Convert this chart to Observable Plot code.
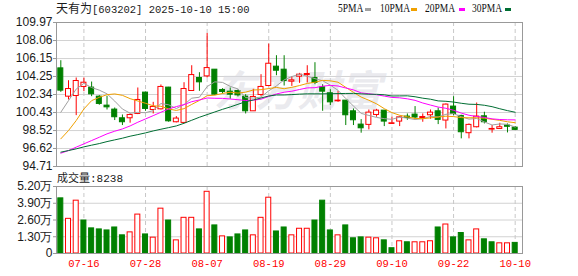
<!DOCTYPE html>
<html><head><meta charset="utf-8">
<script src="https://cdn.jsdelivr.net/npm/d3@7"></script>
<script src="https://cdn.jsdelivr.net/npm/@observablehq/plot@0.6"></script>
<style>
body{margin:0;background:#fff;}
#wrap{position:relative;width:578px;height:276px;overflow:hidden;background:#fff;}
#wrap svg{position:absolute;left:0;}
.t{position:absolute;white-space:nowrap;color:#1a1a1a;line-height:14px;}
.cjk{font-family:"Noto Sans CJK SC",sans-serif;}
.mono{font-family:"Liberation Mono",monospace;}
.lg{position:absolute;top:2px;font-family:"Liberation Serif",serif;font-size:12.5px;color:#111;line-height:13px;white-space:nowrap;transform:scaleX(0.76);transform-origin:0 0;}
.sq{position:absolute;top:8px;width:6px;height:3px;}
g[aria-label="y-axis tick"]{stroke:#999;}
</style></head><body><div id="wrap"></div>
<script>
// ---- data ----
const stockName = "天有为";
const stockCode = "603202";
const stamp = "2025-10-10 15:00";
const lastVolumeText = "8238";
const dates = ["07-11","07-14","07-15","07-16","07-17","07-18","07-21","07-22","07-23","07-24","07-25","07-28","07-29","07-30","07-31",
"08-01","08-04","08-05","08-06","08-07","08-08","08-11","08-12","08-13","08-14","08-15","08-18","08-19","08-20","08-21","08-22","08-25","08-26","08-27","08-28","08-29",
"09-01","09-02","09-03","09-04","09-05","09-08","09-09","09-10","09-11","09-12","09-15","09-16","09-17","09-18","09-19","09-22","09-23","09-24","09-25","09-26","09-29","09-30",
"10-09","10-10"];
const open  = [105.11,102.11,102.18,103.14,103.07,102.11,101.16,100.74,99.82,99.82,100.28,102.54,100.70,100.77,103.07,99.40,99.33,102.71,104.09,104.26,104.97,102.82,102.64,102.71,102.11,100.56,102.29,103.24,105.29,104.97,103.70,104.23,104.40,104.09,103.10,102.47,101.62,101.69,100.56,99.15,99.12,100.17,100.63,99.22,99.47,100.00,100.21,99.85,100.14,100.56,99.58,101.06,100.07,98.24,98.87,100.03,98.62,98.69,99.05,98.83];
const high  = [105.92,103.80,104.09,104.09,103.66,102.22,102.15,100.91,100.17,100.28,103.03,102.60,101.51,103.35,103.10,100.00,103.59,105.39,104.65,108.81,104.97,102.96,103.03,102.82,102.32,102.89,104.44,107.68,106.45,106.45,104.23,104.58,105.39,105.71,103.38,102.85,102.68,101.69,100.81,99.68,100.70,100.77,100.63,99.93,100.03,100.28,101.06,100.28,100.70,100.91,101.34,102.11,100.14,99.22,101.44,100.46,99.05,99.29,99.22,98.94];
const low   = [102.57,101.76,100.10,102.64,102.11,101.20,100.70,99.58,99.05,99.30,100.21,100.56,100.28,100.70,99.40,99.33,99.26,102.71,102.68,104.09,102.22,102.40,101.83,102.08,100.28,100.56,102.11,103.17,104.33,103.24,103.20,103.52,103.56,103.38,100.56,101.16,101.51,99.05,99.05,98.24,98.59,99.93,98.94,99.19,98.94,99.61,99.72,99.40,99.72,99.15,98.69,100.10,97.64,97.64,98.80,99.22,98.24,98.66,98.27,98.52];
const close = [102.75,102.92,103.77,103.59,102.36,101.34,100.98,99.93,99.40,100.17,101.76,100.81,101.02,103.14,99.50,99.79,102.92,104.40,103.63,105.14,102.32,102.61,102.32,102.25,100.56,102.08,103.14,105.60,104.86,103.77,103.84,104.44,104.51,103.56,102.64,101.51,101.69,100.14,99.61,98.76,100.42,100.63,99.47,99.29,99.92,99.86,99.90,99.95,100.42,99.65,101.27,100.28,98.34,99.12,100.00,99.40,98.69,98.87,98.92,98.59];
const volume = [4.28,2.69,4.10,2.56,1.95,1.87,1.79,2.02,1.41,1.64,3.02,1.48,1.23,3.48,2.56,1.02,2.77,2.77,1.87,4.79,2.18,1.33,1.25,1.48,1.79,1.41,2.77,4.33,1.71,2.02,1.41,1.92,1.92,2.56,4.10,1.79,1.41,2.18,1.18,1.25,1.23,1.18,1.02,0.41,0.95,0.87,0.87,0.87,0.95,2.02,2.25,1.25,1.59,1.02,1.87,1.10,0.87,0.79,0.79,0.8238];
const ma5  = [100.46,101.69,102.92,103.52,103.08,102.80,102.41,101.64,100.80,100.36,100.45,100.41,100.63,101.38,101.25,100.85,101.27,101.95,102.05,103.18,103.68,103.62,103.20,102.93,102.01,101.96,102.07,102.73,103.25,103.89,104.24,104.50,104.28,104.02,103.80,103.33,102.78,101.91,101.12,100.34,100.12,99.91,99.78,99.71,99.95,99.83,99.69,99.78,100.01,99.96,100.24,100.31,99.99,99.73,99.80,99.43,99.11,99.22,99.18,98.89];
const ma10 = [97.64,98.52,99.58,100.81,101.69,102.04,102.32,102.40,102.25,101.90,101.65,101.41,101.14,101.09,100.81,100.65,100.84,101.29,101.71,102.21,102.27,102.45,102.58,102.49,102.59,102.82,102.85,102.97,103.09,102.95,103.10,103.29,103.51,103.64,103.84,103.79,103.64,103.10,102.57,102.07,101.73,101.35,100.84,100.42,100.14,99.98,99.80,99.78,99.86,99.95,100.04,100.00,99.89,99.87,99.88,99.83,99.71,99.60,99.45,99.35];
const ma20 = [96.12,96.40,96.76,97.11,97.46,97.81,98.17,98.45,98.69,99.01,99.40,99.75,100.10,100.46,100.81,101.06,101.27,101.58,101.76,101.97,101.94,101.93,101.86,101.79,101.70,101.74,101.84,102.13,102.40,102.58,102.69,102.87,103.04,103.06,103.22,103.31,103.24,103.03,102.83,102.51,102.42,102.32,102.17,102.03,101.99,101.88,101.72,101.44,101.22,101.01,100.88,100.67,100.37,100.14,100.01,99.91,99.76,99.69,99.66,99.65];
const ma30 = [96.23,96.40,96.58,96.79,96.97,97.14,97.35,97.53,97.71,97.92,98.09,98.27,98.48,98.66,98.83,99.01,99.29,99.61,99.93,100.21,100.49,100.77,101.02,101.30,101.58,101.76,101.97,102.18,102.29,102.29,102.33,102.38,102.41,102.41,102.41,102.42,102.44,102.45,102.46,102.41,102.37,102.36,102.31,102.18,102.19,102.20,102.10,101.95,101.84,101.66,101.62,101.54,101.41,101.31,101.29,101.20,101.05,100.83,100.63,100.46];
const priceTicks = [94.71,96.62,98.52,100.43,102.34,104.25,106.15,108.06,109.97];
const volTicks = [0,1.30,2.60,3.90,5.20];
const dateTicks = ["07-16","07-28","08-07","08-19","08-29","09-10","09-22","10-10"];
const maNames = ["5PMA","10PMA","20PMA","30PMA"];
const watermark = "东方财富";

// ---- styles ----
const UP = "#ff0000", DOWN = "#008000";
const maColors = ["#a0a0a0","#f0a000","#ff00ff","#006e33"];
const maKeys = ["ma5","ma10","ma20","ma30"];

const rows = dates.map((date, i) => ({
  date, open: open[i], high: high[i], low: low[i], close: close[i], vol: volume[i],
  ma5: ma5[i], ma10: ma10[i], ma20: ma20[i], ma30: ma30[i],
  up: close[i] >= open[i],
  volUp: i === 0 ? close[i] >= open[i] : close[i] >= close[i - 1]
}));

const xScale = () => ({type: "band", domain: dates, range: [56, 519], paddingInner: 0.35, paddingOuter: 0.235, axis: null});
const baseStyle = {fontFamily: "Liberation Sans, Arial, sans-serif", fontSize: "12px", color: "#1a1a1a", background: "transparent", overflow: "visible"};

const main = Plot.plot({
  width: 578, height: 170, marginLeft: 56, marginRight: 56, marginTop: 22, marginBottom: 4,
  style: baseStyle,
  x: xScale(),
  y: {domain: [94.71, 109.97], ticks: priceTicks, tickFormat: d => d.toFixed(2), tickSize: 3, tickPadding: 1, label: null},
  color: {type: "identity"},
  marks: [
    Plot.ruleY(priceTicks, {stroke: "#d2d2d2"}),
    Plot.ruleX(dateTicks, {stroke: "#c8c8c8", strokeDasharray: "4,3"}),
    Plot.text([watermark], {frameAnchor: "middle", dx: 8, dy: -2, fontSize: 42, fontWeight: "bold", fontStyle: "italic", fill: "#d8d8e0", fillOpacity: 0.55, fontFamily: "Noto Sans CJK SC"}),
    Plot.ruleX(rows, {x: "date", y1: "low", y2: "high", stroke: d => d.up ? UP : DOWN}),
    Plot.barY(rows.filter(d => d.up), {x: "date", y1: "open", y2: "close", fill: "#fff", stroke: UP}),
    Plot.barY(rows.filter(d => !d.up), {x: "date", y1: "open", y2: "close", fill: DOWN, stroke: DOWN}),
    ...maKeys.map((k, j) => Plot.lineY(rows, {x: "date", y: k, stroke: maColors[j], strokeWidth: 1})),
    Plot.frame({stroke: "#999"})
  ]
});
main.style.top = "0px";

const vol = Plot.plot({
  width: 578, height: 106, marginLeft: 56, marginRight: 56, marginTop: 16, marginBottom: 23,
  style: baseStyle,
  x: xScale(),
  y: {domain: [0, 5.2], ticks: volTicks, tickFormat: d => d === 0 ? "0" : d.toFixed(2) + "万", tickSize: 3, tickPadding: 1, label: null},
  marks: [
    Plot.ruleY(volTicks, {stroke: "#d2d2d2"}),
    Plot.ruleX(dateTicks, {stroke: "#c8c8c8", strokeDasharray: "4,3"}),
    Plot.barY(rows.filter(d => d.volUp), {x: "date", y: "vol", fill: "#fff", stroke: UP}),
    Plot.barY(rows.filter(d => !d.volUp), {x: "date", y: "vol", fill: DOWN, stroke: DOWN}),
    Plot.frame({stroke: "#999"}),
    Plot.text(dateTicks, {x: d => d, frameAnchor: "bottom", dy: 13, fill: UP, fontFamily: "Liberation Mono, monospace", fontSize: 10.5})
  ]
});
vol.style.top = "170px";

const wrap = document.getElementById("wrap");
wrap.appendChild(main);
wrap.appendChild(vol);

const title = document.createElement("div");
title.className = "t";
title.style.left = "56px"; title.style.top = "1px";
title.innerHTML = `<span class="cjk" style="font-size:12px">${stockName}</span><span class="mono" style="font-size:10.5px">[${stockCode}] ${stamp}</span>`;
wrap.appendChild(title);

const volTitle = document.createElement("div");
volTitle.className = "t";
volTitle.style.left = "57px"; volTitle.style.top = "170px";
volTitle.innerHTML = `<span class="cjk" style="font-size:11px">成交量</span><span class="mono" style="font-size:11px">:${lastVolumeText}</span>`;
wrap.appendChild(volTitle);

const legendLeft = [338, 380, 425, 472];
const squareLeft = [365, 411, 459, 505];
maNames.forEach((n, j) => {
  const s = document.createElement("div");
  s.className = "lg";
  s.style.left = legendLeft[j] + "px";
  s.textContent = n;
  wrap.appendChild(s);
  const q = document.createElement("div");
  q.className = "sq";
  q.style.left = squareLeft[j] + "px";
  q.style.background = maColors[j];
  wrap.appendChild(q);
});
</script></body></html>
